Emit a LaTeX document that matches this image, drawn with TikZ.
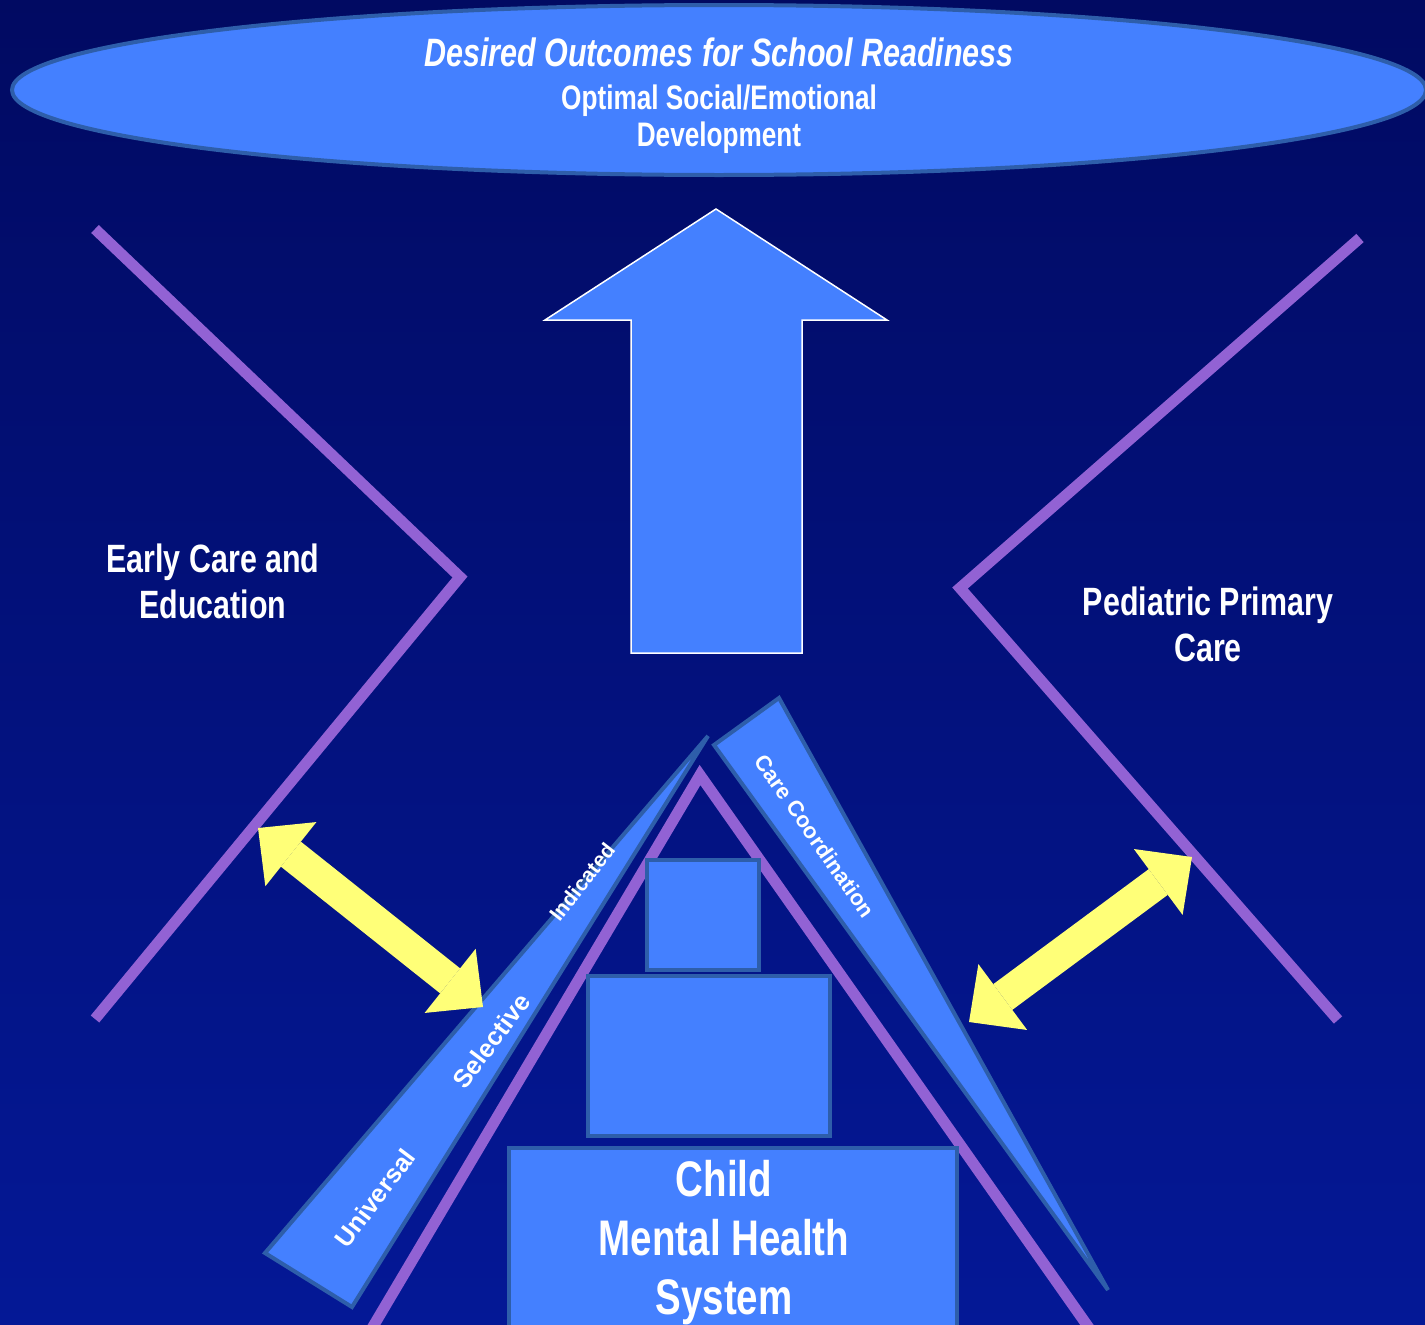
\documentclass[tikz,border=0pt]{standalone}
\usepackage{fontspec}
\newfontfamily\slidefont{Liberation Sans}[FakeStretch=0.77]
\newfontfamily\tierfont{Liberation Sans}
\usetikzlibrary{shapes.geometric, arrows.meta, positioning}
\newcommand\slidesize[2]{\fontsize{#1}{#2}\selectfont}
\definecolor{navydark}{RGB}{1,10,98}
\definecolor{navylight}{RGB}{4,24,150}
\definecolor{slideblue}{RGB}{68,128,255}
\definecolor{edgeblue}{RGB}{46,94,170}
\definecolor{roofpurple}{RGB}{146,98,212}
\definecolor{linkyellow}{RGB}{255,255,120}
\tikzset{
    box/.style={draw=edgeblue, line width=4pt, fill=slideblue, inner sep=0pt},
    wedge/.style={draw=edgeblue, line width=4pt, fill=slideblue},
    bar/.style={draw=roofpurple, line width=11pt},
    sidetext/.style={text=white, align=center, inner sep=0pt, font=\slidefont\bfseries},
    tier/.style={text=white, inner sep=0pt, font=\tierfont\bfseries},
    link/.style={linkyellow, line width=32pt,
        arrows={Triangle[length=42pt, width=82pt, line width=0pt]-Triangle[length=42pt, width=82pt, line width=0pt]}}
}

\begin{document}
\begin{tikzpicture}[x=1pt, y=-1pt]
    \useasboundingbox (0,0) rectangle (1425,1325);
    \clip (0,0) rectangle (1425,1325);
    \shade [top color=navydark, bottom color=navylight] (0,0) rectangle (1425,1325);

    % goal at the top
    \node [ellipse, draw=edgeblue, line width=4pt, fill=slideblue, minimum width=1414pt, minimum height=170pt] (outcomes) at (719,90) {};
    \node [sidetext, font=\slidefont\bfseries\slidesize{34}{37}] (outcomestext) at ([yshift=-6pt]outcomes.center)
        {{\slidesize{39.6}{43}\itshape Desired Outcomes for School Readiness}\\[6pt]Optimal Social/Emotional\\Development};

    % partner systems
    \draw [bar] (95,229) -- (460,577) -- (95,1019);
    \draw [bar] (1360,238) -- (960,588) -- (1338,1020);
    \node [sidetext, font=\slidefont\bfseries\slidesize{39.5}{46}] (ece) at (213,581) {Early Care and\\Education};
    \node [sidetext, font=\slidefont\bfseries\slidesize{39.5}{46}] (ppc) at (1208,624) {Pediatric Primary\\Care};

    \draw [white, line width=1.5pt, fill=slideblue] (716,209) -- (887,320) -- (802,320) -- (802,653)
        -- (631,653) -- (631,320) -- (545,320) -- cycle;

    % service strips
    \draw [wedge] (265,1253) -- (708,736) -- (352,1307) -- cycle;
    \draw [wedge] (714,745) -- (779,698) -- (1108,1290) -- cycle;
    \node [tier, font=\tierfont\bfseries\slidesize{25.5}{30}, rotate=53] (universal) at (375,1198) {Universal};
    \node [tier, font=\tierfont\bfseries\slidesize{25.5}{30}, rotate=53] (selective) at (491,1041) {Selective};
    \node [tier, font=\tierfont\bfseries\slidesize{21}{25}, rotate=52] (indicated) at (582,882) {Indicated};
    \node [tier, font=\tierfont\bfseries\slidesize{22}{26}, rotate=-55] (carecoord) at (815,836) {Care Coordination};

    % the house
    \draw [bar] (368,1335) -- (700,775) -- (1094,1335);
    \node [box, minimum width=448pt, minimum height=200pt] (base) at (733,1248) {};
    \node [box, minimum width=242pt, minimum height=160pt, above=8pt of base, xshift=-24pt] (middle) {};
    \node [box, minimum width=112pt, minimum height=110pt, above=2pt of middle, xshift=-6pt] (top) {};
    \node [sidetext, font=\slidefont\bfseries\slidesize{50}{59}] (childtext) at (724,1243) {Child\\Mental Health\\System};

    \coordinate (eceport) at (258,828);
    \coordinate (tierport) at (483,1007);
    \coordinate (ccport) at (969,1022);
    \coordinate (ppcport) at (1192,857);
    \draw [link] (eceport) -- (tierport);
    \draw [link] (ccport) -- (ppcport);
\end{tikzpicture}
\end{document}
